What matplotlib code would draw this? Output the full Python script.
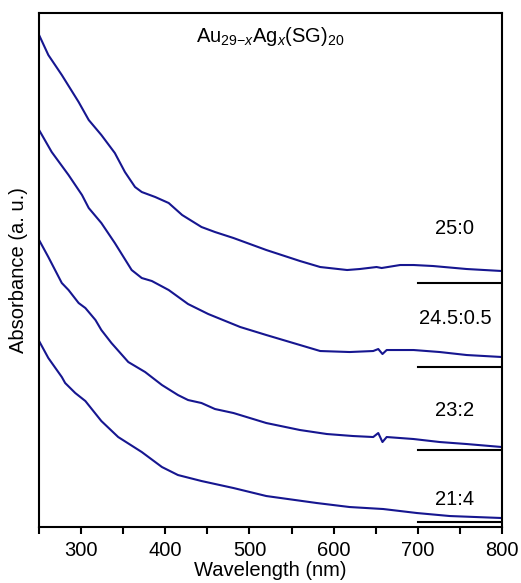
import matplotlib.pyplot as plt
import numpy as np

# Fonte tipo Arial para todo o gráfico
plt.rcParams['font.family'] = 'Liberation Sans'
plt.rcParams['mathtext.fontset'] = 'custom'
plt.rcParams['mathtext.rm'] = 'Liberation Sans'
plt.rcParams['mathtext.it'] = 'Liberation Sans:italic'

# ======= Dados: espectros UV-vis (absorbância relativa à linha de base) =======

wl_25_0 = [250, 261, 277, 297, 309, 324, 340, 352, 360, 364, 372, 388, 404, 420, 443,
           459, 481, 520, 560, 584, 616, 631, 651, 657, 679, 695, 718, 758, 800]
abs_25_0 = [2.48, 2.28, 2.08, 1.81, 1.63, 1.48, 1.30, 1.11, 1.01, 0.96, 0.91, 0.86, 0.80,
            0.68, 0.56, 0.51, 0.45, 0.33, 0.22, 0.16, 0.13, 0.14, 0.16, 0.15, 0.18, 0.18,
            0.17, 0.14, 0.12]

wl_24_5 = [250, 265, 285, 301, 309, 324, 340, 360, 372, 384, 404, 427, 451, 489, 520,
           552, 584, 619, 647, 653, 658, 663, 695, 726, 758, 800]
abs_24_5 = [2.37, 2.15, 1.92, 1.72, 1.59, 1.44, 1.24, 0.97, 0.89, 0.86, 0.77, 0.63, 0.53,
            0.40, 0.32, 0.24, 0.16, 0.15, 0.16, 0.18, 0.13, 0.17, 0.17, 0.15, 0.12, 0.10]

wl_23_2 = [250, 261, 277, 285, 297, 305, 317, 324, 336, 356, 376, 396, 415, 427, 443,
           459, 481, 520, 560, 592, 623, 647, 653, 658, 663, 695, 726, 758, 800]
abs_23_2 = [2.10, 1.93, 1.67, 1.60, 1.47, 1.42, 1.30, 1.20, 1.07, 0.88, 0.78, 0.65, 0.55,
            0.50, 0.47, 0.41, 0.37, 0.27, 0.20, 0.16, 0.14, 0.13, 0.17, 0.08, 0.13, 0.11,
            0.08, 0.06, 0.03]

wl_21_4 = [250, 261, 277, 281, 293, 305, 324, 344, 372, 396, 415, 443, 481, 520, 580,
           619, 659, 699, 738, 800]
abs_21_4 = [1.81, 1.64, 1.45, 1.39, 1.29, 1.21, 1.01, 0.85, 0.70, 0.55, 0.47, 0.41, 0.34,
            0.26, 0.19, 0.15, 0.13, 0.09, 0.06, 0.04]

rotulos = ['25:0', '24.5:0.5', '23:2', '21:4']
deslocamentos = [2.44, 1.60, 0.77, 0.05]

espectros = [(wl_25_0, abs_25_0), (wl_24_5, abs_24_5), (wl_23_2, abs_23_2), (wl_21_4, abs_21_4)]

# altura dos rótulos acima de cada linha de base
rotulo_y = [0.55, 0.49, 0.40, 0.23]

# ======= Gráfico =======

fig = plt.figure(figsize=(5.21, 5.83), dpi=100)
ax = fig.add_axes([0.075, 0.096, 0.8885, 0.8817])

cor = '#161690'
for (wl, ab), desl, rot, ry in zip(espectros, deslocamentos, rotulos, rotulo_y):
    ax.plot(wl, np.array(ab) + desl, color=cor, lw=1.5)
    # linha de base de cada curva
    ax.plot([700, 800], [desl, desl], color='black', lw=1.5)
    ax.text(744, desl + ry, rot, ha='center', va='center', fontsize=14.5)

ax.text(0.5, 0.955, r'Au$_{29\mathrm{-}x}$Ag$_x$(SG)$_{20}$', transform=ax.transAxes,
        ha='center', va='center', fontsize=14.5)

ax.set_xlim(250, 800)
ax.set_ylim(0, 5.14)
ax.set_xticks([300, 400, 500, 600, 700, 800])
ax.set_xticks([250, 350, 450, 550, 650, 750], minor=True)
ax.tick_params(axis='x', which='both', direction='out', length=5, width=1.5, labelsize=14.5, pad=5)
ax.set_yticks([])
for s in ax.spines.values():
    s.set_linewidth(1.5)

ax.set_xlabel('Wavelength (nm)', fontsize=14.5, labelpad=1)
ax.set_ylabel('Absorbance (a. u.)', fontsize=14.5, labelpad=8)

plt.savefig('out.png', dpi=100)
